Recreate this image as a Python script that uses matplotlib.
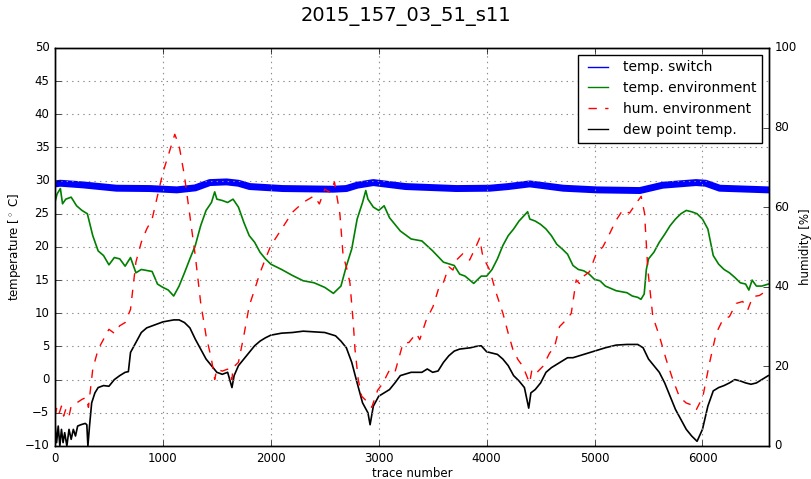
import matplotlib
matplotlib.use("Agg")
import matplotlib.pyplot as plt


# temp. switch (noisy band, centre values)
sw_x = [0, 50, 260, 570, 880, 1130, 1300, 1435, 1590, 1700, 1805, 2110,
        2580, 2700, 2800, 2950, 3250, 3720, 4030, 4200, 4400, 4710, 5020,
        5420, 5630, 5940, 6030, 6160, 6610]
sw_t = [29.5, 29.6, 29.35, 28.85, 28.8, 28.6, 28.9, 29.7, 29.8, 29.6, 29.1,
        28.8, 28.7, 28.8, 29.3, 29.7, 29.1, 28.8, 28.85, 29.1, 29.5, 28.85,
        28.6, 28.5, 29.3, 29.7, 29.6, 28.85, 28.6]

# temp. environment
env_x = [0, 20, 50, 70, 100, 150, 200, 250, 300, 350, 400, 450, 500, 550,
         600, 650, 700, 750, 800, 900, 950, 1000, 1050, 1100, 1150, 1200,
         1250, 1300, 1350, 1400, 1450, 1480, 1500, 1550, 1600, 1650, 1700,
         1750, 1800, 1850, 1900, 1950, 2000, 2100, 2200, 2300, 2400, 2500,
         2580, 2650, 2700, 2750, 2800, 2850, 2880, 2900, 2950, 3000, 3050,
         3100, 3200, 3300, 3400, 3500, 3600, 3700, 3750, 3800, 3880, 3950,
         4000, 4050, 4100, 4150, 4200, 4250, 4300, 4380, 4400, 4450, 4500,
         4550, 4600, 4650, 4700, 4750, 4800, 4850, 4900, 4950, 5000, 5050,
         5100, 5200, 5300, 5350, 5400, 5430, 5460, 5480, 5500, 5550, 5600,
         5650, 5700, 5750, 5800, 5850, 5900, 5950, 6000, 6050, 6100, 6150,
         6200, 6250, 6300, 6350, 6400, 6430, 6460, 6500, 6550, 6610]
env_t = [26.8, 28.0, 28.8, 26.5, 27.2, 27.5, 26.2, 25.5, 25.0, 21.7, 19.4,
         18.7, 17.3, 18.4, 18.2, 17.1, 18.4, 16.1, 16.6, 16.3, 14.4, 13.9,
         13.5, 12.6, 14.1, 16.1, 18.2, 20.2, 23.2, 25.5, 26.7, 28.3, 27.2,
         27.0, 26.7, 27.2, 26.0, 23.7, 21.7, 20.7, 19.2, 18.2, 17.4, 16.6,
         15.7, 14.9, 14.6, 13.9, 13.0, 14.1, 17.1, 19.7, 24.2, 26.7, 28.5,
         27.2, 26.0, 25.5, 26.2, 24.4, 22.4, 21.2, 20.9, 19.4, 17.7, 17.2,
         15.9, 15.6, 14.5, 15.6, 15.6, 16.6, 18.2, 20.2, 21.7, 22.7, 23.9,
         25.3, 24.2, 23.9, 23.4, 22.7, 21.7, 20.4, 19.7, 18.9, 17.2, 16.6,
         16.4, 15.9, 15.1, 14.9, 14.1, 13.4, 13.1, 12.6, 12.4, 12.1, 12.9,
         16.6, 18.2, 19.2, 20.7, 21.9, 23.2, 24.2, 25.0, 25.5, 25.3, 25.0,
         24.2, 22.7, 18.7, 17.4, 16.6, 16.1, 15.4, 14.6, 14.4, 13.5, 15.0,
         14.1, 14.1, 14.4]

# hum. environment [%]
hum_x = [0, 20, 40, 60, 80, 100, 130, 150, 200, 250, 290, 310, 350, 400,
         450, 500, 550, 600, 650, 700, 750, 800, 850, 900, 950, 1000, 1050,
         1110, 1150, 1200, 1250, 1300, 1350, 1400, 1450, 1480, 1500, 1550,
         1600, 1640, 1650, 1700, 1750, 1800, 1850, 1900, 1950, 2000, 2100,
         2200, 2300, 2400, 2450, 2500, 2550, 2590, 2640, 2670, 2700, 2733,
         2764, 2780, 2810, 2842, 2904, 2935, 2990, 3037, 3102, 3150, 3225,
         3280, 3349, 3380, 3441, 3503, 3560, 3596, 3650, 3688, 3720, 3780,
         3842, 3900, 3935, 3960, 3981, 4028, 4090, 4151, 4200, 4244, 4290,
         4336, 4398, 4420, 4460, 4521, 4583, 4630, 4676, 4738, 4784, 4830,
         4860, 4892, 4954, 5015, 5077, 5139, 5200, 5262, 5324, 5386, 5432,
         5463, 5494, 5540, 5602, 5664, 5725, 5787, 5849, 5900, 5941, 6003,
         6065, 6127, 6188, 6250, 6312, 6373, 6420, 6466, 6528, 6605]
hum_h = [7.5, 10.0, 8.3, 10.0, 7.5, 9.2, 7.5, 10.0, 10.8, 11.7, 12.2, 9.7,
         19.3, 24.3, 26.8, 29.3, 28.3, 30.2, 31.0, 34.3, 46.2, 51.2, 54.5,
         57.0, 62.8, 68.7, 73.0, 78.3, 75.5, 67.8, 57.8, 47.8, 36.0, 27.7,
         21.8, 16.7, 19.3, 18.8, 19.3, 16.7, 19.7, 21.0, 27.7, 35.2, 39.3,
         43.5, 47.0, 50.3, 54.5, 58.7, 61.2, 62.8, 60.8, 64.5, 63.7, 66.3,
         58.3, 47.8, 45.0, 41.0, 31.0, 24.3, 16.7, 12.5, 10.8, 9.7, 14.0,
         15.7, 19.2, 18.5, 25.8, 26.0, 28.3, 26.7, 31.7, 35.0, 40.0, 40.8,
         45.0, 44.2, 46.7, 48.3, 46.7, 50.0, 52.2, 48.3, 46.7, 44.2, 38.3,
         33.3, 28.3, 24.2, 21.7, 20.0, 15.8, 19.2, 18.3, 20.0, 23.3, 25.0,
         30.0, 31.7, 33.3, 41.7, 40.8, 42.5, 43.8, 48.3, 50.0, 53.3, 56.7,
         59.3, 58.5, 61.0, 62.7, 58.5, 44.2, 32.5, 27.5, 21.7, 16.7, 12.3,
         10.8, 10.3, 9.0, 12.3, 20.8, 28.3, 31.7, 32.5, 35.8, 36.3, 34.2,
         37.5, 37.8, 39.2]

# dew point temp.
dew_x = [0, 15, 30, 45, 60, 75, 90, 110, 130, 150, 170, 190, 210, 240, 280,
         295, 305, 320, 340, 370, 400, 450, 500, 550, 600, 650, 680, 700,
         750, 800, 850, 900, 950, 1000, 1100, 1150, 1200, 1250, 1300, 1350,
         1400, 1450, 1500, 1550, 1600, 1640, 1660, 1700, 1750, 1800, 1850,
         1900, 1950, 2000, 2100, 2200, 2300, 2400, 2500, 2600, 2650, 2700,
         2750, 2800, 2850, 2900, 2920, 2950, 3000, 3050, 3100, 3150, 3200,
         3300, 3400, 3450, 3500, 3550, 3600, 3650, 3700, 3750, 3800, 3850,
         3900, 3950, 4000, 4100, 4150, 4200, 4250, 4300, 4350, 4390, 4410,
         4450, 4500, 4550, 4600, 4650, 4700, 4750, 4800, 4900, 5000, 5100,
         5200, 5300, 5400, 5450, 5500, 5550, 5600, 5650, 5700, 5750, 5800,
         5850, 5900, 5950, 6000, 6050, 6100, 6150, 6200, 6250, 6300, 6350,
         6400, 6450, 6500, 6550, 6610]
dew_t = [-6.5, -9.5, -7.0, -10.0, -7.5, -9.5, -8.0, -10.0, -7.5, -9.0,
         -7.5, -8.5, -7.0, -6.8, -6.6, -6.8, -10.0, -7.0, -3.5, -2.0, -1.2,
         -0.9, -1.0, 0.0, 0.6, 1.1, 1.2, 4.1, 5.6, 7.1, 7.8, 8.1, 8.4, 8.7,
         9.0, 9.0, 8.6, 7.8, 6.1, 4.6, 3.1, 2.1, 1.1, 0.8, 1.1, -1.2, 0.6,
         2.1, 3.1, 4.1, 5.1, 5.8, 6.3, 6.7, 7.0, 7.1, 7.3, 7.2, 7.1, 6.6,
         5.8, 4.8, 2.6, -0.5, -3.5, -5.0, -6.8, -4.0, -2.5, -2.0, -1.5,
         -0.5, 0.6, 1.1, 1.1, 1.6, 1.1, 1.3, 2.6, 3.6, 4.3, 4.6, 4.7, 4.8,
         5.0, 5.1, 4.2, 3.8, 3.1, 2.1, 0.6, -0.2, -1.2, -4.3, -2.0, -1.5,
         -0.5, 1.1, 1.8, 2.3, 2.8, 3.3, 3.3, 3.8, 4.3, 4.8, 5.2, 5.3, 5.3,
         4.8, 3.1, 2.1, 1.1, -0.5, -2.5, -4.5, -6.0, -7.5, -8.5, -9.3, -7.5,
         -4.0, -1.7, -1.2, -0.9, -0.5, 0.0, -0.2, -0.5, -0.7, -0.5, 0.0,
         0.6]

title = "2015_157_03_51_s11"

plt.style.use("classic")
plt.rcParams["figure.facecolor"] = "white"
plt.rcParams["savefig.facecolor"] = "white"
plt.rcParams["font.family"] = ["DejaVu Sans"]

fig = plt.figure(figsize=(8.11, 4.79), dpi=100)
ax1 = fig.add_axes([0.0678, 0.069, 0.8802, 0.831])
ax2 = ax1.twinx()

l1, = ax1.plot(sw_x, sw_t, color="b", lw=5, solid_joinstyle="round")
l2, = ax1.plot(env_x, env_t, color="g", lw=1.2)
l4, = ax1.plot(dew_x, dew_t, color="k", lw=1.2)
l3, = ax2.plot(hum_x, hum_h, color="r", ls="--", lw=1.0)

ax1.set_xlim(0, 6615)
ax1.set_ylim(-10, 50)
ax1.set_yticks(range(-10, 51, 5))
ax2.set_ylim(0, 100)
ax2.set_yticks(range(0, 101, 20))
ax1.set_xticks(range(0, 6001, 1000))
ax1.grid(True, color="0.55", linestyle=":", linewidth=0.8)
ax1.tick_params(axis="y", right=False, labelsize=8.5)
ax1.tick_params(axis="x", labelsize=8.5)
ax2.tick_params(axis="y", labelsize=8.5)

ax1.set_xlabel("trace number", fontsize=8.5, labelpad=1.5)
ax1.set_ylabel("temperature [$^\\circ$ C]", fontsize=8.5, labelpad=1)
ax2.set_ylabel("humidity [%]", fontsize=8.5, labelpad=1.5)

leg = ax2.legend([l1, l2, l3, l4],
                 ["temp. switch", "temp. environment", "hum. environment", "dew point temp."],
                 loc="upper right", fontsize=10, numpoints=2)
for h in leg.get_lines():
    h.set_linewidth(1.0)

fig.suptitle(title, fontsize=14, y=0.985)

plt.savefig("out.png", dpi=100)
